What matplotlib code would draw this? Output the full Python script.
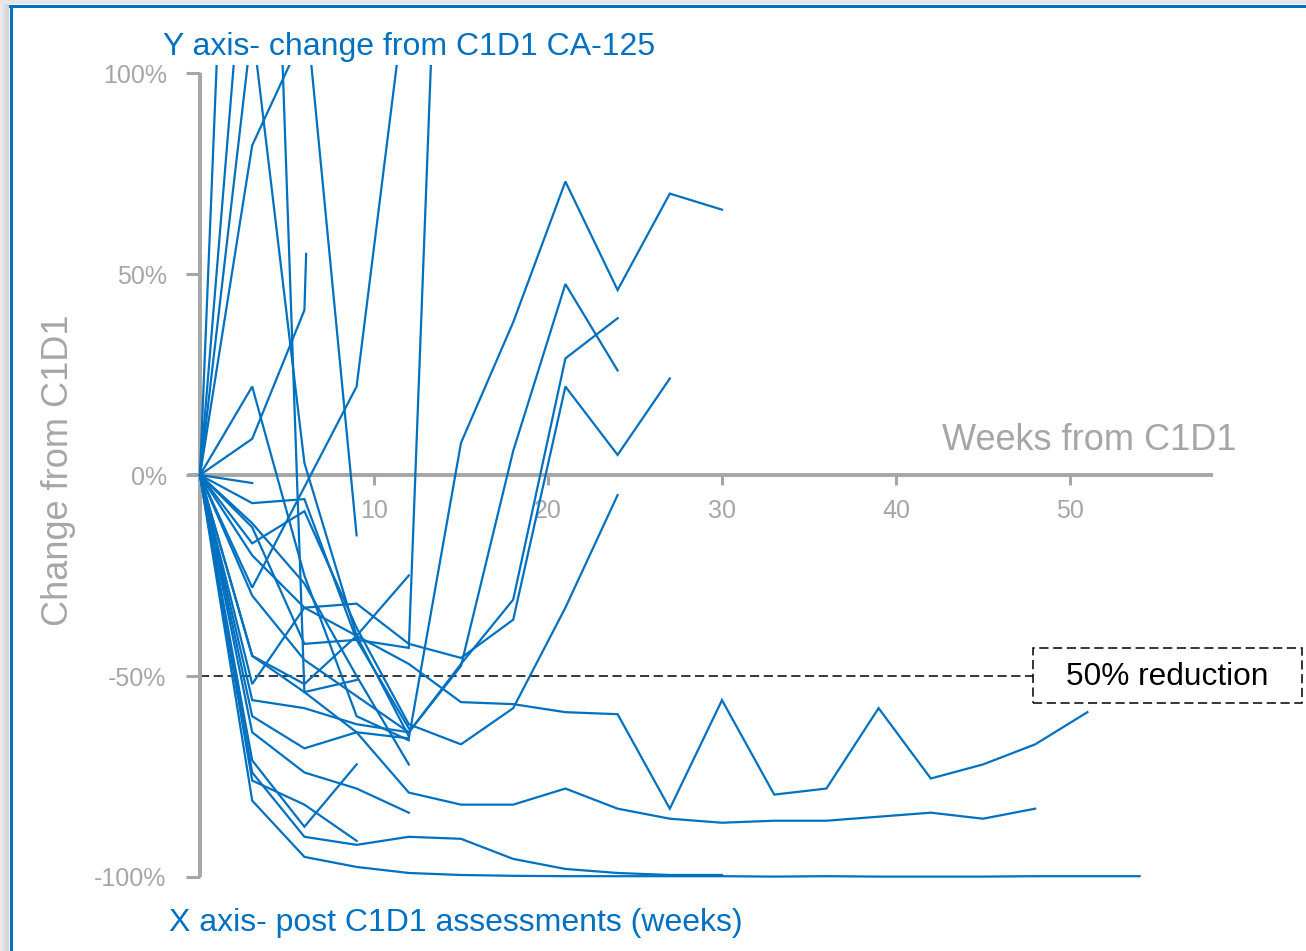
import matplotlib
matplotlib.use('Agg')
import matplotlib.pyplot as plt
from matplotlib.lines import Line2D
from matplotlib.patches import Rectangle
import numpy as np

plt.rcParams['font.family'] = ['Liberation Sans', 'DejaVu Sans']

# ---------------- data (percent change from C1D1, assessed every 3 weeks) -----------
weeks = [0, 3, 6, 9, 12, 15, 18, 21, 24, 27, 30, 33, 36, 39, 42, 45, 48, 51, 54]

pt_zigzag = [0, -20, -33, -40, -47, -56.5, -57, -59, -59.5, -83, -56, -79.5, -78, -58, -75.5, -72, -67, -59]
pt_long2 = [0, -45, -54, -64, -79, -82, -82, -78, -83, -85.5, -86.5, -86, -86, -85, -84, -85.5, -83]
pt_long3 = [0, -81, -95, -97.5, -99, -99.5, -99.7, -99.8, -99.8, -99.8, -99.8, -99.9, -99.8,
            -99.9, -99.9, -99.9, -99.8, -99.8, -99.8]
pt_long4 = [0, -74, -90, -92, -90, -90.5, -95.5, -98, -99, -99.5, -99.5]
pt_e = [0, -64, -74, -78, -84]
pt_f = [0, -71, -87.5, -72]
pt_g = [0, -60, -68, -64, -65.5, 8, 38, 73, 46, 70, 66]
pt_h = [0, -76, -82, -91]
pt_i = [0, -2]
pt_j = [0, -7, -6, -41, -63]
pt_k = [0, -17, -9, -38, -62, -67, -58, -33, -5]
pt_l = [0, -12, -27, -50, -72]
pt_m = [0, 320, -54, -51]
pt_n = [0, 158, 120, -15]
pt_o = [0, 112, 3, -40, -65]
pt_p = [0, 82, 110]
pt_r = [0, 22, -25, -60, -66]
pt_s = [0, -28, -3, 22, 126]
pt_t = [0, -13, -42, -41, -43, 300]
pt_u = [0, -52, -33, -32, -42, -45.5, -36, 22, 5, 24]
pt_v = [0, -56, -58, -62, -64, -47.5, 6, 47.5, 26]
pt_w = [0, -30, -46, -55, -64, -47, -31, 29, 39]
pt_x = [0, -45, -52, -40, -25]

# one patient with two assessments in week 6
pt_q_weeks = [0, 3, 6, 6.1]
pt_q = [0, 9, 41, 55]

ytick_vals = [-100, -50, 0, 50, 100]
ytick_labels = ['-100%', '-50%', '0%', '50%', '100%']
xtick_vals = [10, 20, 30, 40, 50]
xtick_labels = ['10', '20', '30', '40', '50']
reduction_level = -50

# ---------------- figure ----------------
W, H = 1306, 951
BLUE = '#0070C0'
GREY = '#a6a6a6'

fig = plt.figure(figsize=(W / 100, H / 100), dpi=100)

x0_px, px_per_wk = 200, 17.4
y0_px, px_per_pct = 475, 4.02
xmin, xmax = -2, 62
ymin, ymax = -105, 102
left_px = x0_px + xmin * px_per_wk
right_px = x0_px + xmax * px_per_wk
top_px = y0_px - ymax * px_per_pct
bot_px = y0_px - ymin * px_per_pct
ax = fig.add_axes([left_px / W, 1 - bot_px / H, (right_px - left_px) / W, (bot_px - top_px) / H])
ax.set_xlim(xmin, xmax)
ax.set_ylim(ymin, ymax)
ax.patch.set_alpha(0)

series = [pt_zigzag, pt_long2, pt_long3, pt_long4, pt_e, pt_f, pt_g, pt_h, pt_i, pt_j,
          pt_k, pt_l, pt_m, pt_n, pt_o, pt_p, pt_r, pt_s, pt_t, pt_u, pt_v, pt_w, pt_x]
for vals in series:
    ax.plot(weeks[:len(vals)], vals, color=BLUE, lw=1.6, zorder=3, solid_joinstyle='miter')
ax.plot(pt_q_weeks, pt_q, color=BLUE, lw=1.6, zorder=3, solid_joinstyle='miter')

# 50% reduction line
x_box_left = (1033 - x0_px) / px_per_wk
ax.plot([0, x_box_left], [reduction_level, reduction_level], color='black', lw=1.1,
        linestyle=(0, (6, 3)), zorder=2)

# spines
for s in ['top', 'right']:
    ax.spines[s].set_visible(False)
ax.spines['left'].set_position(('data', 0))
ax.spines['bottom'].set_position(('data', 0))
ax.spines['left'].set_bounds(-100, 100)
ax.spines['bottom'].set_bounds(-0.7, 58.2)
for s in ['left', 'bottom']:
    ax.spines[s].set_color(GREY)
    ax.spines[s].set_linewidth(2.8)
    ax.spines[s].set_capstyle('butt')

ax.set_yticks(ytick_vals)
ax.set_yticklabels(ytick_labels)
ax.set_xticks(xtick_vals)
ax.set_xticklabels(xtick_labels)
ax.tick_params(axis='y', direction='out', length=10, width=2.2, color=GREY,
               labelcolor=GREY, labelsize=18, pad=14)
ax.tick_params(axis='x', direction='out', length=7, width=2.2, color=GREY,
               labelcolor=GREY, labelsize=18, pad=10)
for t in ax.xaxis.get_major_ticks()[:2]:
    t.tick1line.set_color(BLUE)

def fx(px):
    return px / W

def fy(py):
    return 1 - py / H

# texts
fig.text(fx(59), fy(470), 'Change from C1D1', rotation=90, color=GREY, fontsize=26,
         ha='center', va='center')
fig.text(fx(1236), fy(440), 'Weeks from C1D1', color=GREY, fontsize=26, ha='right', va='center')
fig.text(fx(163), fy(47), 'Y axis- change from C1D1 CA-125', color=BLUE, fontsize=23,
         ha='left', va='center')
fig.text(fx(169), fy(923), 'X axis- post C1D1 assessments (weeks)', color=BLUE, fontsize=23,
         ha='left', va='center')

# 50% reduction box
bx0, by0, bx1, by1 = 1033, 648, 1302, 703
fig.patches.append(Rectangle((fx(bx0), fy(by1)), fx(bx1) - fx(bx0), fy(by0) - fy(by1),
                             transform=fig.transFigure, fill=False, edgecolor='black',
                             lw=1.1, linestyle=(0, (6, 3))))
fig.text(fx((bx0 + bx1) / 2), fy(677), '50% reduction', color='black', fontsize=22.8,
         ha='center', va='center')

# frame shadow and blue border
sh = fig.add_axes([0, 0, 9 / W, 1])
grad = np.linspace(0.93, 0.82, 20).reshape(1, -1)
sh.imshow(np.dstack([grad, grad, grad]), aspect='auto', extent=[0, 1, 0, 1])
sh.axis('off')
sh2 = fig.add_axes([0, fy(4), 1, 4 / H])
sh2.imshow(np.full((1, 1, 3), 0.9), aspect='auto', extent=[0, 1, 0, 1])
sh2.axis('off')
fig.add_artist(Line2D([fx(10.5), fx(10.5)], [0, fy(5.5)], color=BLUE, lw=2.2,
                      transform=fig.transFigure))
fig.add_artist(Line2D([fx(9.5), 1], [fy(5.5), fy(5.5)], color=BLUE, lw=2.2,
                      transform=fig.transFigure))

fig.savefig('out.png', dpi=100)
